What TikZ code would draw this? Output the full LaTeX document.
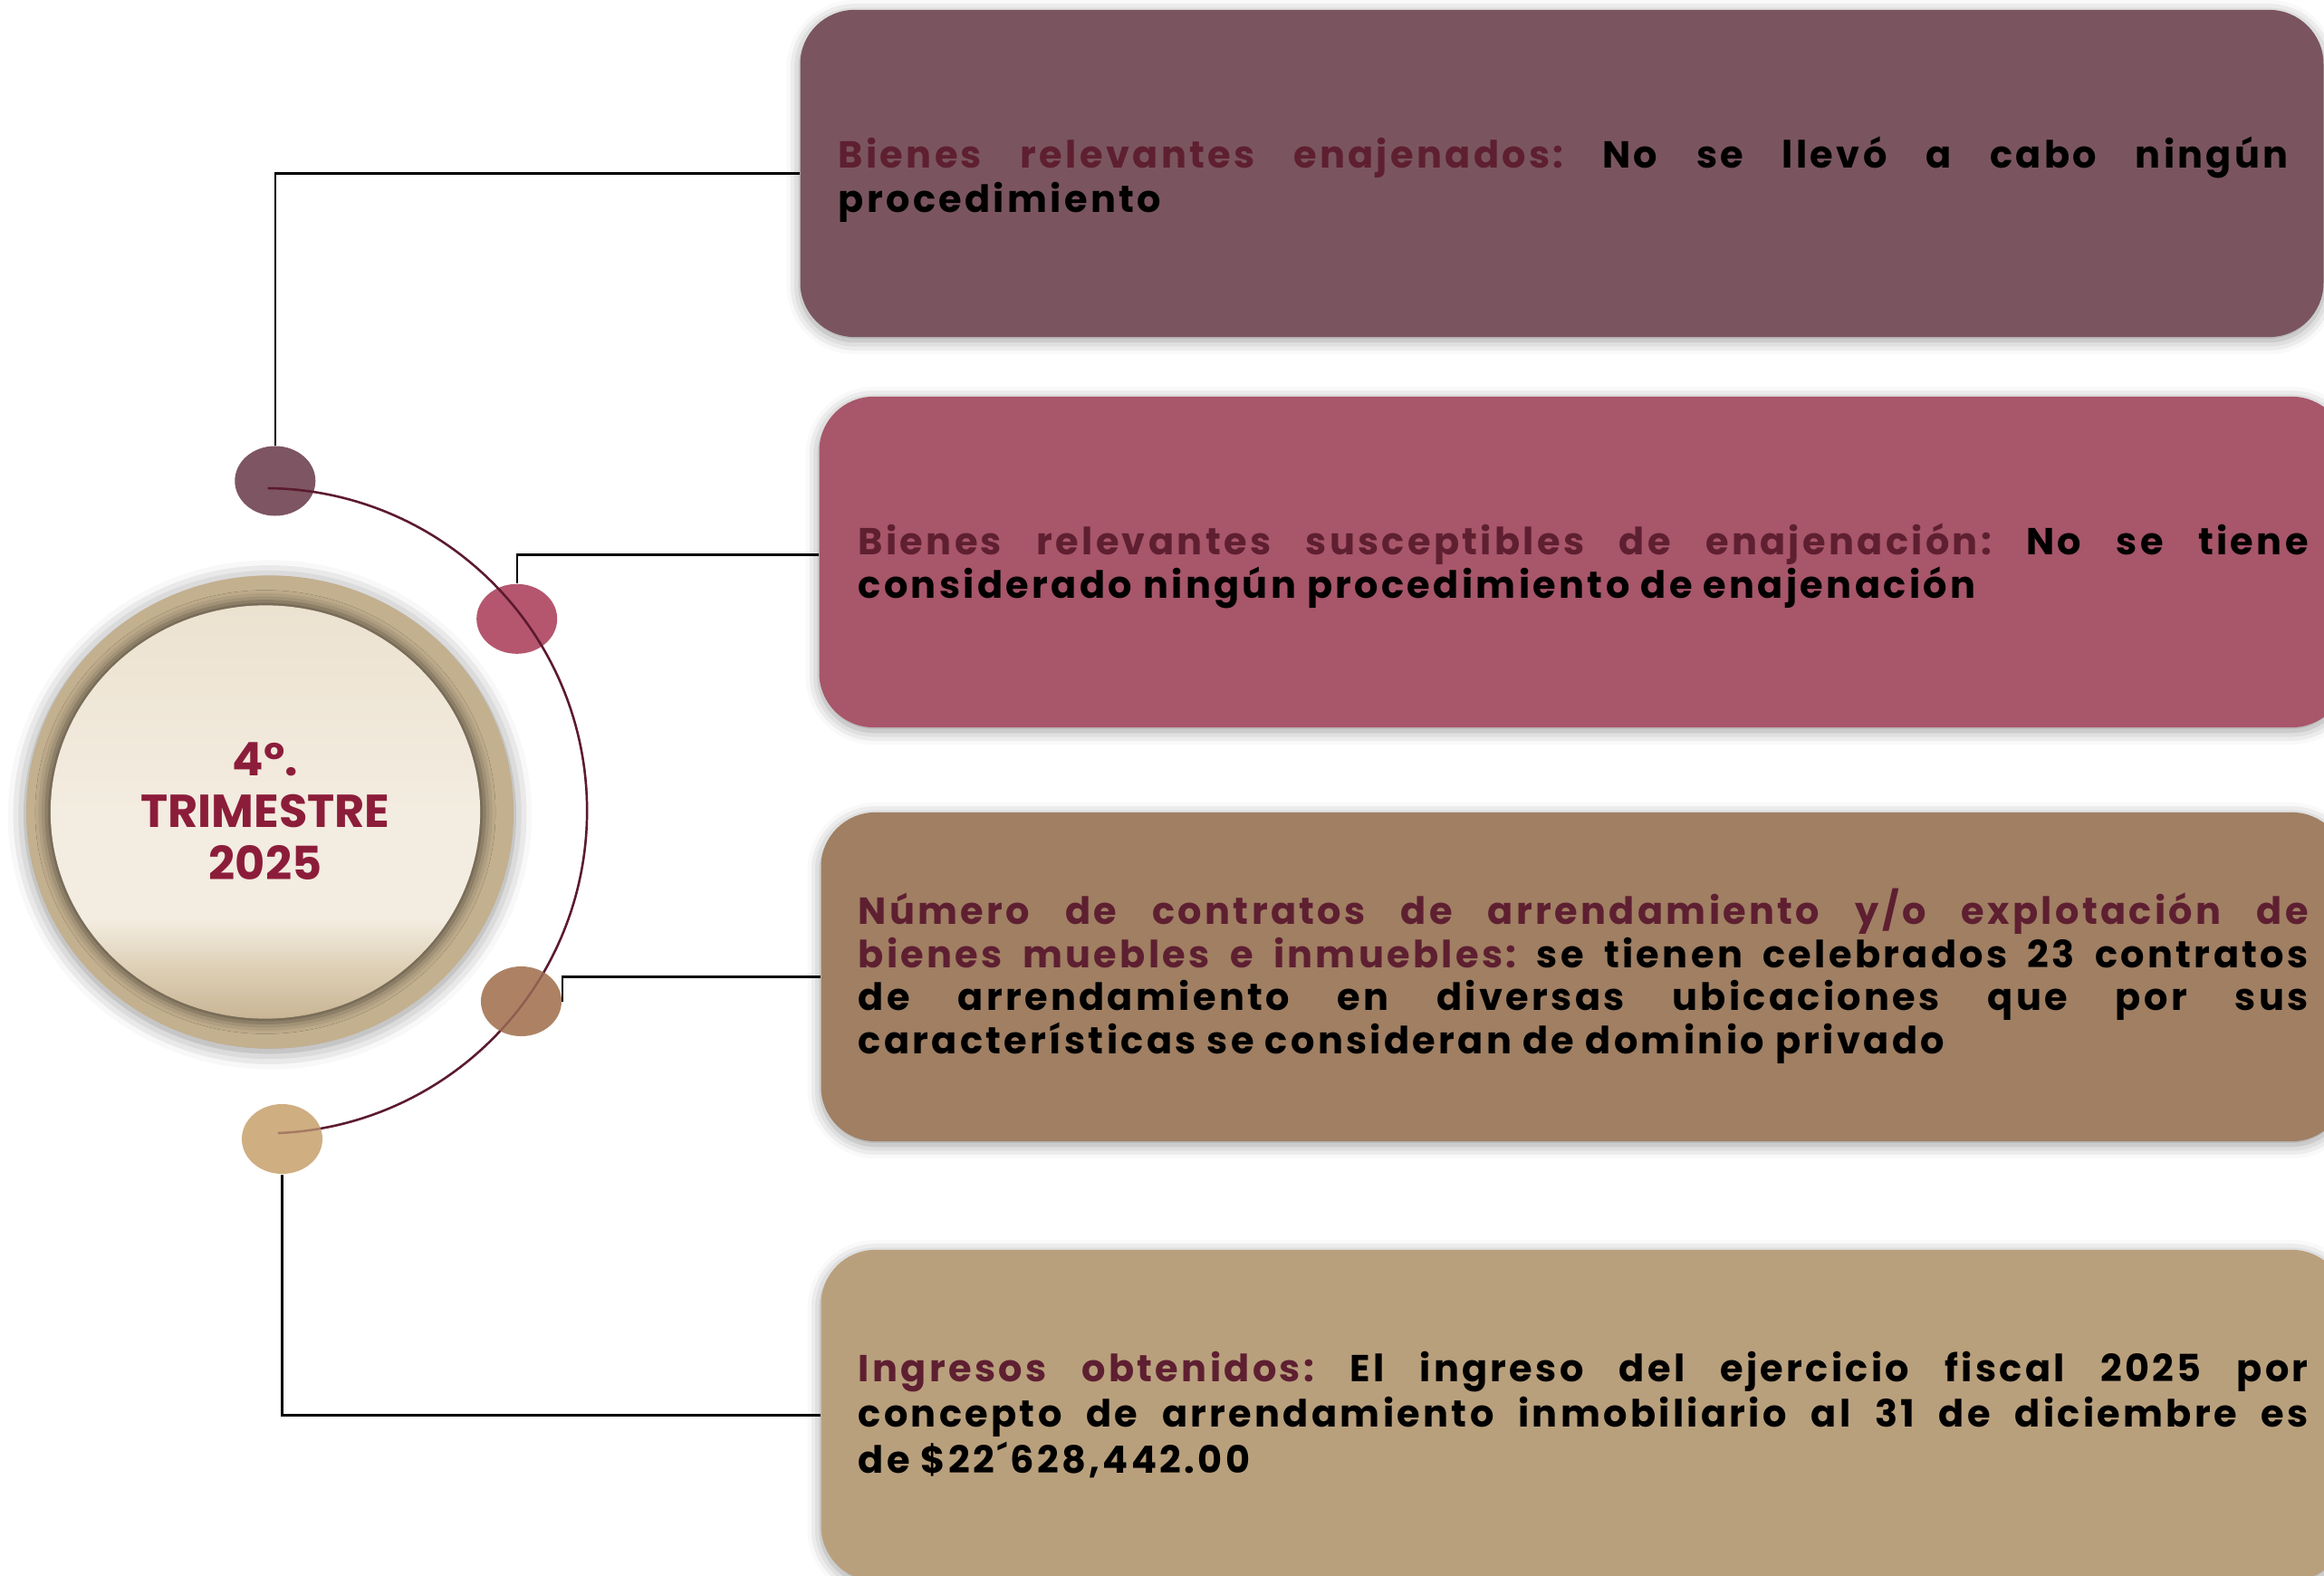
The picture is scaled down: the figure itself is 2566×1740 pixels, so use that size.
\documentclass[tikz,border=0pt]{standalone}
\usepackage{fontspec}
\setmainfont{Poppins}
\newfontfamily\boxfont[LetterSpace=8]{Poppins}
\usetikzlibrary{shapes.geometric,shadows.blur}
\definecolor{boxA}{HTML}{7A5560}
\definecolor{boxB}{HTML}{A8566A}
\definecolor{boxC}{HTML}{A07F63}
\definecolor{boxD}{HTML}{B9A07D}
\definecolor{dotA}{HTML}{7E5562}
\definecolor{dotB}{HTML}{B5566E}
\definecolor{dotC}{HTML}{AD8264}
\definecolor{dotD}{HTML}{CFAE82}
\definecolor{headc}{HTML}{5E1F31}
\definecolor{ringc}{HTML}{C3B08F}
\definecolor{titlec}{HTML}{8C1D3A}
\definecolor{arcc}{HTML}{5C1A2E}
\definecolor{gbot}{HTML}{C9B595}
\definecolor{gmidb}{HTML}{DDCFB5}
\definecolor{gmid}{HTML}{F3ECE0}
\definecolor{gtop}{HTML}{ECE2D0}
\pgfdeclareverticalshading{innergrad}{100bp}{color(0bp)=(gbot); color(25bp)=(gbot); color(31bp)=(gmidb); color(37bp)=(gmid); color(50bp)=(gmid); color(75bp)=(gtop); color(100bp)=(gtop)}
\hbadness=10000
\frenchspacing
\tikzset{
  panel/.style={rectangle, rounded corners=0.6cm, inner sep=0pt, draw=none,
    blur shadow={shadow xshift=0cm, shadow yshift=-0.04cm, shadow blur radius=0.15cm, shadow opacity=40}},
  dot/.style={ellipse, inner sep=0pt, draw=none, minimum width=0.89cm, minimum height=0.77cm},
  ptext/.style={anchor=base west, inner sep=0pt},
  ctext/.style={anchor=base, inner sep=0pt, text=titlec, font=\bfseries\fontsize{14.5}{16}\selectfont},
  conn/.style={draw=black, line width=0.6pt},
  arcline/.style={draw=arcc, line width=0.7pt},
}
\newcommand{\boxpar}[2]{\parbox[t]{16cm}{\frenchspacing\boxfont\bfseries\fontsize{11.8}{#1}\selectfont #2}}
\begin{document}
\begin{tikzpicture}[x=0.01cm, y=-0.01cm]
\useasboundingbox (0,0) rectangle (2566,1740);
% panels
\node[panel, fill=boxA, minimum width=16.81cm, minimum height=3.61cm] (b1) at (1724.5,191.5) {};
\node[panel, fill=boxB, minimum width=16.85cm, minimum height=3.65cm] (b2) at (1747.5,620.5) {};
\node[panel, fill=boxC, minimum width=16.83cm, minimum height=3.63cm] (b3) at (1748.5,1078.5) {};
\node[panel, fill=boxD, minimum width=16.83cm, minimum height=3.65cm] (b4) at (1748.5,1562.5) {};
% panel texts
\node[ptext] (t1) at (925,186) {\boxpar{13.66pt}{\textcolor{headc}{Bienes relevantes enajenados:} No se llevó a cabo ningún\linebreak procedimiento}};
\node[ptext] (t2) at (947,612.7) {\boxpar{13.46pt}{\textcolor{headc}{Bienes relevantes susceptibles de enajenación:} No se tiene\linebreak considerado ningún procedimiento de enajenación}};
\node[ptext] (t3) at (947,1020.7) {\boxpar{13.5pt}{\textcolor{headc}{Número de contratos de arrendamiento y/o explotación de\linebreak bienes muebles e inmuebles:} se tienen celebrados 23 contratos\linebreak de arrendamiento en diversas ubicaciones que por sus\linebreak características se consideran de dominio privado}};
\node[ptext] (t4) at (947,1525) {\boxpar{14.5pt}{\textcolor{headc}{Ingresos obtenidos:} El ingreso del ejercicio fiscal 2025 por\linebreak concepto de arrendamiento inmobiliario al 31 de diciembre es\linebreak de \$22´628,442.00}};
% central circle
\node[ellipse, fill=ringc, inner sep=0pt, minimum width=5.38cm, minimum height=5.22cm,
  blur shadow={shadow xshift=0cm, shadow yshift=-0.03cm, shadow blur radius=0.2cm, shadow opacity=45}] (ring) at (298,896.5) {};
\node[ellipse, shading=innergrad, inner sep=0pt, minimum width=4.74cm, minimum height=4.56cm,
  blur shadow={shadow xshift=0cm, shadow yshift=0cm, shadow scale=1.02, shadow blur radius=0.12cm, shadow opacity=55}] (inner) at (293,896.5) {};
\node[ctext] (c1) at (293,856.4) {4º.};
\node[ctext] (c2) at (293,913.8) {TRIMESTRE};
\node[ctext] (c3) at (293,971.2) {2025};
% dots and arc
\node[dot, fill=dotA] (e1) at (303.8,531) {};
\node[dot, fill=dotB] (e2) at (570.7,683.3) {};
\coordinate (arcs) at (295.7,539);
\draw[arcline] (arcs) arc[start angle=89.4, end angle=-87.6, radius=3.56cm] coordinate (arce);
\node[dot, fill=dotC] (e3) at (575.5,1105.5) {};
\node[dot, fill=dotD] (e4) at (311.5,1257.5) {};
\draw[arcline, draw opacity=0.35] (arcs) arc[start angle=89.4, end angle=-87.6, radius=3.56cm];
% connectors
\draw[conn] (e1.north) |- (b1.west);
\draw[conn] (e2.north) |- ([yshift=0.08cm]b2.west);
\draw[conn] (e3.east) |- (b3.west);
\draw[conn] (e4.south) |- (b4.west);
\end{tikzpicture}
\end{document}
